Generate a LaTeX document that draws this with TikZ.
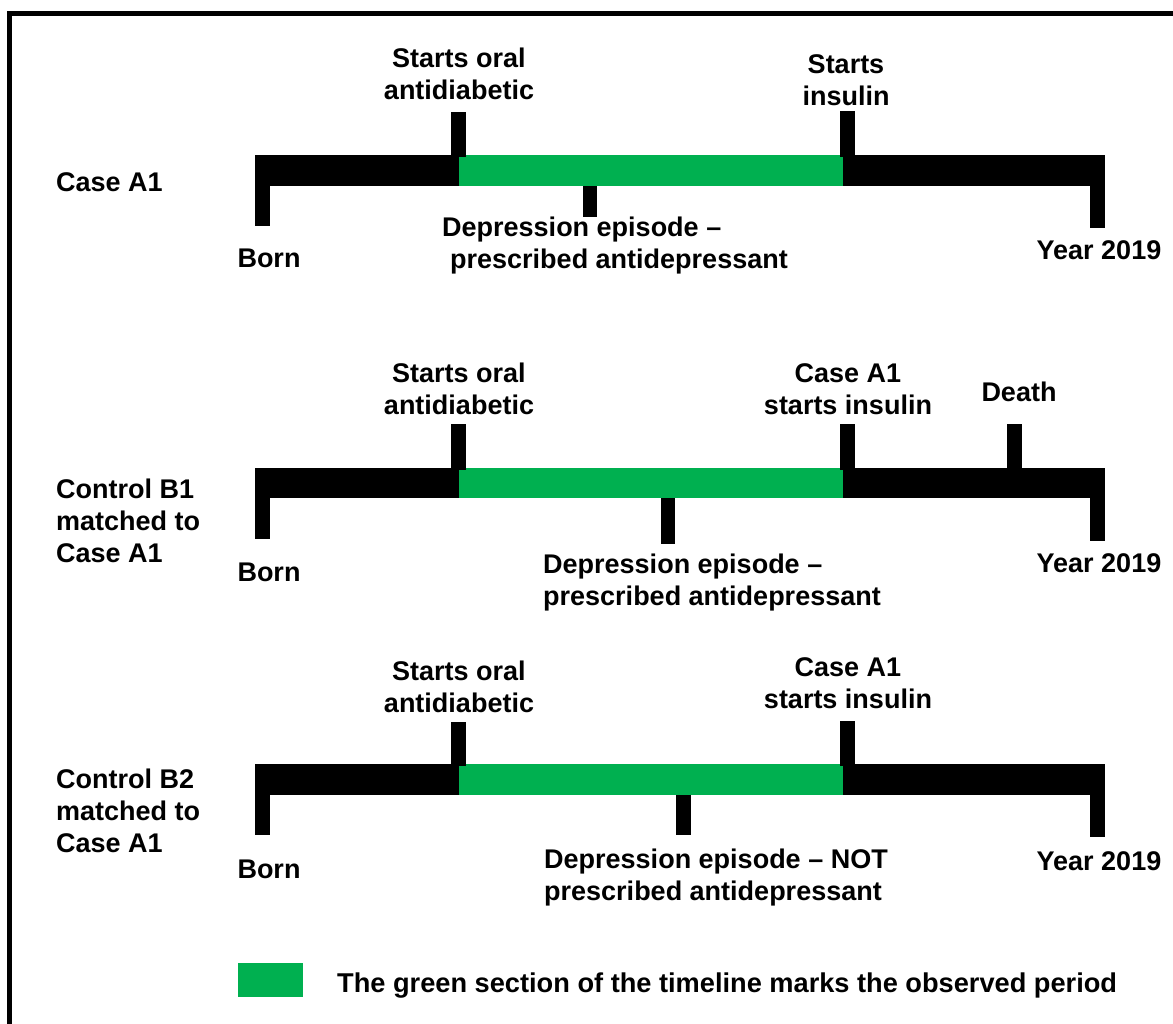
\documentclass[tikz,border=0pt]{standalone}
\usepackage{fontspec}
\setmainfont{Liberation Sans}
\definecolor{obsgreen}{HTML}{00B050}
\begin{document}
% Node positions below give the baseline of the LAST line of each label.
\begin{tikzpicture}[x=1pt,y=-1pt,
  lbl/.style={font=\bfseries\fontsize{27}{32}\selectfont, inner sep=0pt, anchor=base, align=center},
  lbll/.style={lbl, align=left, anchor=base west},
  ink/.style={fill=black},
  obs/.style={fill=obsgreen}]
\useasboundingbox (0,0) rectangle (1173,1024);
\fill[white] (0,0) rectangle (1173,1024);
% outer frame (left and top edges)
\draw[line width=5pt] (9.5,1024) -- (9.5,14) -- (1173,14);

% ---------- Case A1 ----------
\fill[ink] (255,155) rectangle (1105,186);
\fill[obs] (459,155) rectangle (843,186);
\fill[ink] (255,155) rectangle (270,226);
\fill[ink] (1090,155) rectangle (1105,228);
\fill[ink] (451,112) rectangle (466,157);
\fill[ink] (840,111) rectangle (855,157);
\fill[ink] (583,186) rectangle (597,217);
\node[lbll] (caseA) at (56,192) {Case A1};
\node[lbl] (oralA) at (459,100) {Starts oral\\antidiabetic};
\node[lbl] (insA) at (846,106) {Starts\\insulin};
\node[lbll] (depA) at (442,269) {Depression episode --\\\hspace{8pt}prescribed antidepressant};
\node[lbl] (bornA) at (269,268) {Born};
\node[lbl] (endA) at (1099,260) {Year 2019};

% ---------- Control B1 ----------
\fill[ink] (255,468) rectangle (1105,498);
\fill[obs] (459,468) rectangle (843,498);
\fill[ink] (255,468) rectangle (270,539);
\fill[ink] (1090,468) rectangle (1105,541);
\fill[ink] (451,424) rectangle (466,470);
\fill[ink] (840,424) rectangle (855,470);
\fill[ink] (1007,424) rectangle (1022,468);
\fill[ink] (661,498) rectangle (675,544);
\node[lbll] (ctrlB1) at (56,562) {Control B1\\matched to\\Case A1};
\node[lbl] (oralB1) at (459,414) {Starts oral\\antidiabetic};
\node[lbl] (insB1) at (848,414) {Case A1\\starts insulin};
\node[lbl] (death) at (1019,401) {Death};
\node[lbll] (depB1) at (543,605) {Depression episode --\\prescribed antidepressant};
\node[lbl] (bornB1) at (269,581) {Born};
\node[lbl] (endB1) at (1099,572) {Year 2019};

% ---------- Control B2 ----------
\fill[ink] (255,764) rectangle (1105,795);
\fill[obs] (459,764) rectangle (843,795);
\fill[ink] (255,764) rectangle (270,835);
\fill[ink] (1090,764) rectangle (1105,837);
\fill[ink] (451,722) rectangle (466,766);
\fill[ink] (840,721) rectangle (855,766);
\fill[ink] (676,795) rectangle (691,835);
\node[lbll] (ctrlB2) at (56,852) {Control B2\\matched to\\Case A1};
\node[lbl] (oralB2) at (459,712) {Starts oral\\antidiabetic};
\node[lbl] (insB2) at (848,708) {Case A1\\starts insulin};
\node[lbll] (depB2) at (544,900) {Depression episode -- NOT\\prescribed antidepressant};
\node[lbl] (bornB2) at (269,878) {Born};
\node[lbl] (endB2) at (1099,870) {Year 2019};

% ---------- legend ----------
\fill[obs] (238,963) rectangle (303,997);
\node[lbll, font=\bfseries\fontsize{27.2}{32}\selectfont] (legend) at (337,992) {The green section of the timeline marks the observed period};
\end{tikzpicture}
\end{document}
